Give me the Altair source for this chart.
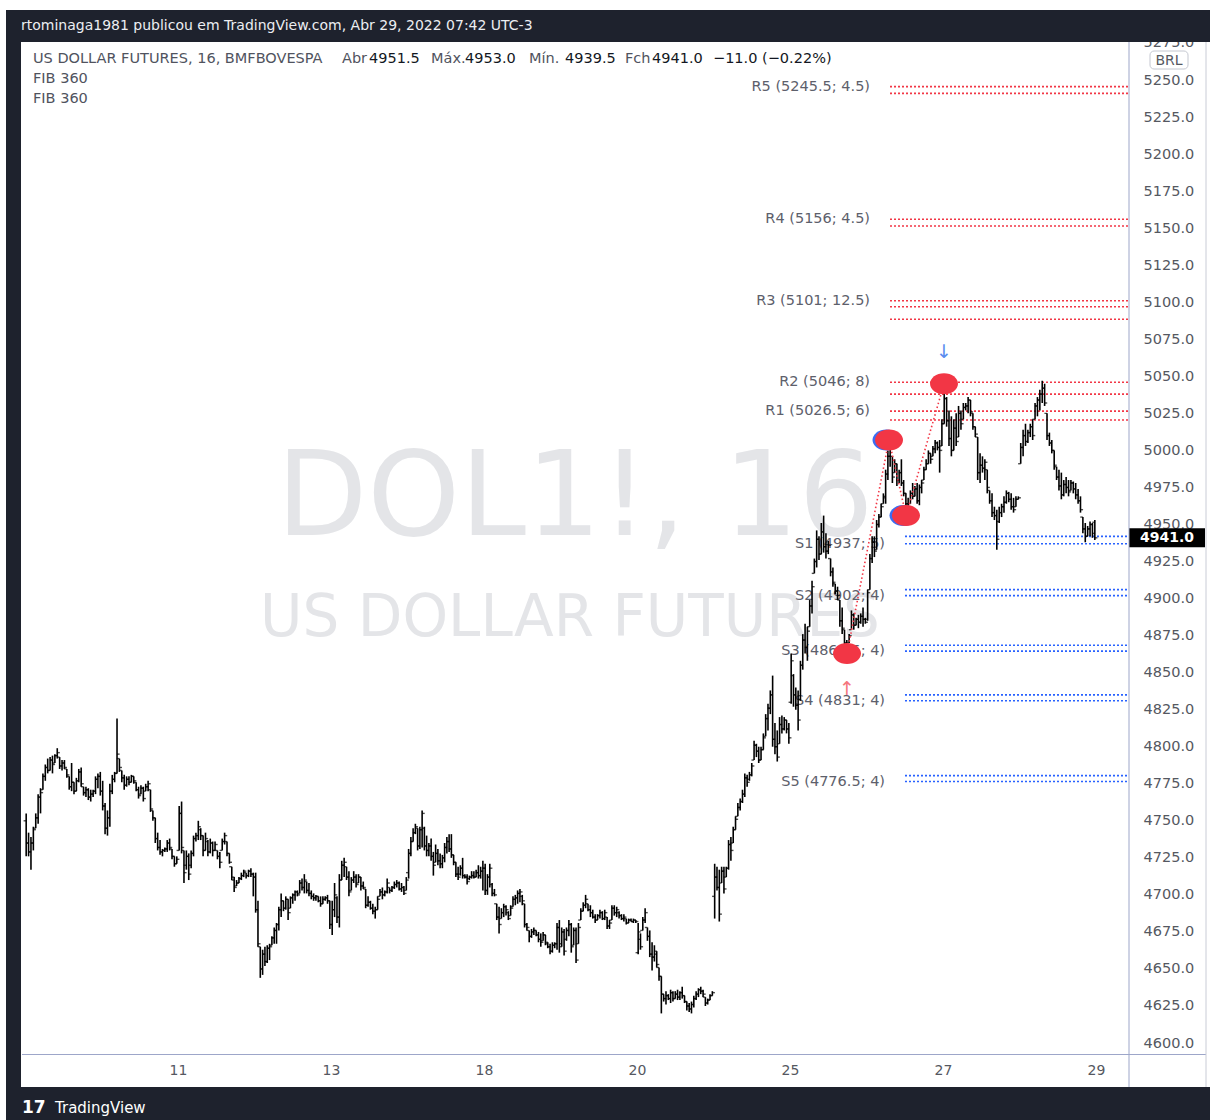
import altair as alt
import pandas as pd

FONT = "DejaVu Sans"
DARK = "#1e222d"
RED = "#f23645"
BLUE = "#2962ff"
GRAY = "#555861"

# ---------------- data ----------------
DAY_NAMES = ["7", "8", "11", "12", "13", "14", "18", "19", "20", "22", "25", "26", "27", "28"]
BARS_PER_DAY = [32, 32, 32, 33, 32, 34, 33, 32, 33, 33, 33, 34, 32, 32]

OPEN = [
    # 7
    4750,4735,4729,4735,4745,4752,4766,4771,4780,4786,4784,4791,4789,4794,4793,4787,4789,4785,4780,4773,4776,4770,4777,4783,4773,4769,4771,4766,4768,4770,4778,4780,
    # 8
    4770,4760,4745,4752,4770,4778,4782,4792,4784,4779,4774,4778,4776,4780,4776,4771,4768,4772,4770,4773,4771,4757,4752,4738,4732,4729,4730,4731,4735,4731,4726,4721,
    # 11
    4730,4755,4730,4720,4726,4720,4728,4738,4740,4744,4740,4730,4736,4729,4735,4730,4730,4726,4730,4736,4736,4728,4719,4710,4706,4708,4711,4713,4715,4713,4716,4714,
    # 12
    4712,4690,4665,4650,4660,4655,4664,4666,4671,4676,4680,4690,4696,4691,4697,4691,4698,4700,4702,4701,4708,4705,4709,4703,4701,4699,4698,4699,4696,4694,4697,4698,4696,
    # 13
    4680,4690,4698,4685,4710,4720,4719,4712,4703,4710,4712,4708,4712,4706,4704,4693,4695,4691,4689,4690,4699,4702,4700,4702,4705,4703,4705,4707,4708,4704,4705,4703,
    # 14
    4715,4728,4736,4742,4745,4733,4744,4745,4733,4730,4733,4726,4722,4728,4723,4721,4725,4732,4736,4731,4727,4722,4714,4714,4718,4713,4712,4711,4712,4713,4712,4715,4713,4716,
    # 18
    4718,4703,4712,4707,4701,4694,4685,4684,4688,4692,4688,4686,4692,4697,4698,4701,4699,4694,4680,4676,4672,4675,4676,4673,4670,4669,4673,4667,4665,4662,4666,4667,4678,
    # 19
    4667,4675,4670,4676,4680,4666,4676,4667,4683,4689,4693,4694,4690,4688,4685,4683,4686,4688,4684,4685,4679,4683,4691,4688,4688,4686,4684,4684,4681,4683,4682,4683,
    # 20
    4661,4670,4676,4683,4678,4672,4660,4658,4660,4651,4645,4633,4630,4632,4630,4634,4630,4633,4631,4634,4632,4628,4625,4623,4626,4630,4633,4636,4635,4631,4627,4629,4632,
    # 22
    4699,4712,4705,4708,4716,4712,4718,4734,4735,4744,4753,4759,4763,4768,4779,4778,4781,4791,4801,4797,4791,4798,4807,4819,4826,4835,4805,4800,4802,4815,4812,4818,4812,
    # 25
    4830,4848,4835,4828,4832,4855,4872,4867,4881,4895,4917,4925,4940,4930,4945,4935,4932,4927,4918,4910,4905,4899,4885,4879,4870,4870,4879,4889,4882,4886,4884,4888,4886,
    # 26
    4886,4906,4927,4938,4933,4950,4955,4964,4968,4984,4996,4996,4985,4991,4980,4985,4978,4971,4964,4964,4971,4969,4974,4966,4975,4980,4987,4991,4998,4996,5001,5005,5002,5003,
    # 27
    5018,5035,5020,5008,5000,5015,5009,5025,5021,5029,5030,5034,5025,5016,5009,4985,4990,4988,4987,4973,4966,4958,4956,4952,4958,4962,4965,4971,4967,4962,4962,4967,
    # 28
    4991,5002,5010,5006,5012,5016,5021,5030,5034,5038,5042,5025,5010,5005,5000,4989,4982,4976,4970,4977,4975,4973,4978,4974,4970,4966,4955,4947,4942,4947,4950,4951.5,
]
HIGH = [
    4755,4742,4739,4746,4755,4768,4772,4782,4788,4792,4793,4794,4795,4799,4793,4791,4791,4785,4780,4789,4776,4779,4785,4786,4773,4773,4772,4771,4771,4780,4782,4783,
    4777,4762,4757,4775,4781,4783,4819,4792,4784,4781,4780,4780,4781,4780,4776,4773,4774,4773,4775,4777,4771,4757,4752,4742,4737,4731,4732,4737,4738,4731,4726,4726,
    4760,4763,4730,4730,4728,4730,4740,4742,4750,4745,4740,4742,4737,4738,4736,4736,4730,4729,4738,4742,4736,4728,4719,4712,4710,4712,4715,4717,4715,4717,4718,4715,
    4715,4696,4665,4663,4665,4666,4667,4672,4678,4681,4692,4701,4696,4699,4697,4699,4701,4703,4703,4710,4711,4714,4709,4708,4703,4701,4700,4699,4699,4699,4699,4700,4696,
    4696,4708,4699,4714,4723,4725,4719,4716,4712,4716,4714,4714,4712,4709,4704,4699,4696,4694,4692,4699,4704,4705,4703,4711,4705,4706,4709,4710,4709,4708,4706,4712,
    4731,4739,4745,4748,4745,4746,4757,4746,4740,4735,4738,4729,4734,4731,4728,4727,4735,4739,4741,4741,4727,4722,4719,4720,4725,4714,4714,4713,4716,4716,4717,4720,4719,4723,
    4721,4714,4721,4708,4704,4694,4692,4691,4694,4693,4689,4693,4699,4700,4703,4704,4700,4694,4681,4676,4677,4678,4676,4675,4674,4675,4673,4668,4667,4668,4668,4681,4683,
    4678,4677,4678,4683,4681,4678,4678,4681,4691,4695,4700,4694,4693,4690,4687,4687,4690,4689,4690,4685,4683,4693,4693,4692,4689,4687,4687,4684,4684,4684,4684,4683,
    4681,4674,4685,4691,4678,4676,4668,4666,4662,4651,4645,4633,4635,4633,4636,4635,4635,4636,4635,4638,4632,4628,4627,4628,4632,4635,4637,4638,4636,4631,4630,4633,4635,
    4721,4719,4717,4719,4719,4719,4737,4739,4746,4753,4762,4765,4771,4782,4781,4783,4789,4804,4802,4800,4800,4809,4822,4829,4838,4848,4816,4811,4820,4821,4820,4818,4816,
    4863,4849,4840,4838,4858,4876,4883,4881,4899,4912,4927,4946,4942,4951,4956,4944,4939,4927,4921,4910,4908,4899,4894,4879,4872,4876,4892,4890,4887,4889,4890,4894,4887,
    4906,4930,4942,4942,4953,4957,4964,4971,4987,5000,5006,4996,4994,4991,4987,4994,4980,4971,4968,4973,4978,4976,4978,4977,4980,4989,4994,5000,4998,5003,5007,5006,5007,5021,
    5043,5036,5027,5023,5021,5025,5030,5027,5032,5032,5036,5034,5025,5016,5009,4998,4996,4994,4987,4973,4971,4962,4960,4962,4964,4969,4973,4972,4971,4968,4969,4969,
    5005,5014,5018,5014,5018,5021,5032,5036,5041,5047,5045,5025,5012,5007,5000,4989,4987,4985,4980,4982,4980,4980,4979,4978,4974,4969,4955,4951,4949,4952,4951,4953,
]
LOW = [
    4726,4726,4717,4730,4745,4748,4755,4771,4777,4782,4784,4782,4789,4792,4785,4784,4785,4779,4771,4770,4768,4770,4776,4773,4767,4766,4764,4763,4766,4768,4772,4767,
    4757,4741,4740,4746,4768,4776,4782,4783,4776,4771,4773,4774,4776,4775,4770,4765,4768,4763,4770,4770,4756,4750,4735,4730,4727,4726,4729,4729,4730,4724,4719,4721,
    4730,4728,4708,4717,4710,4718,4726,4736,4737,4737,4726,4730,4726,4728,4726,4730,4724,4718,4730,4734,4726,4721,4710,4702,4706,4708,4710,4712,4711,4712,4712,4699,
    4688,4665,4644,4646,4652,4654,4656,4666,4667,4667,4676,4685,4689,4690,4683,4691,4694,4696,4699,4701,4703,4701,4701,4699,4697,4696,4696,4695,4692,4694,4696,4694,4677,
    4673,4685,4681,4678,4710,4712,4710,4699,4703,4708,4705,4708,4703,4704,4691,4692,4690,4687,4684,4690,4699,4697,4699,4701,4701,4702,4704,4705,4703,4702,4700,4703,
    4711,4726,4736,4741,4730,4731,4732,4730,4726,4726,4723,4713,4722,4720,4718,4718,4722,4728,4729,4725,4720,4712,4710,4713,4711,4711,4707,4710,4711,4711,4712,4711,4711,4703,
    4700,4700,4705,4699,4699,4683,4674,4684,4685,4686,4683,4686,4692,4693,4694,4695,4693,4678,4676,4668,4671,4673,4672,4668,4665,4669,4666,4664,4660,4661,4664,4663,4661,
    4665,4659,4669,4672,4661,4666,4654,4667,4683,4689,4691,4689,4685,4684,4681,4683,4684,4683,4683,4677,4677,4683,4686,4685,4684,4683,4682,4680,4681,4682,4681,4681,
    4660,4663,4676,4681,4669,4658,4649,4655,4651,4642,4620,4628,4626,4629,4627,4628,4630,4629,4629,4630,4627,4622,4621,4620,4624,4629,4631,4633,4631,4625,4626,4629,4632,
    4684,4703,4682,4708,4701,4712,4717,4723,4735,4744,4753,4757,4762,4766,4773,4777,4780,4791,4793,4789,4791,4798,4807,4811,4822,4800,4795,4790,4802,4809,4811,4809,4802,
    4829,4827,4825,4811,4831,4852,4863,4858,4881,4890,4917,4921,4926,4930,4931,4927,4930,4915,4908,4903,4899,4881,4876,4867,4863,4870,4879,4879,4882,4880,4883,4881,4883,
    4885,4906,4924,4928,4933,4948,4955,4964,4964,4980,4989,4978,4985,4976,4978,4976,4969,4962,4958,4964,4967,4969,4964,4963,4971,4980,4987,4991,4991,4996,4998,5000,4985,5003,
    5018,5016,5003,4996,5000,5003,5009,5014,5021,5027,5025,5023,5014,5009,4980,4978,4985,4980,4971,4964,4955,4953,4933,4951,4955,4958,4964,4965,4960,4958,4962,4967,
    4991,4996,5003,5005,5009,5007,5021,5023,5027,5032,5030,5007,5003,4998,4987,4980,4973,4967,4969,4971,4969,4973,4971,4967,4964,4958,4944,4938,4942,4942,4941,4939.5,
]
CLOSE = [
    4735,4729,4735,4744,4752,4766,4769,4780,4786,4784,4791,4788,4794,4796,4787,4789,4786,4781,4773,4776,4770,4777,4783,4775,4769,4771,4766,4768,4770,4778,4780,4770,
    4760,4745,4752,4770,4778,4782,4795,4786,4779,4774,4778,4776,4780,4777,4771,4767,4772,4765,4773,4775,4758,4752,4738,4732,4729,4730,4731,4735,4732,4726,4721,4724,
    4755,4732,4715,4726,4714,4728,4738,4740,4746,4740,4730,4738,4729,4735,4730,4734,4726,4722,4736,4740,4728,4722,4712,4705,4708,4711,4713,4716,4713,4716,4714,4712,
    4690,4667,4650,4660,4655,4664,4665,4671,4676,4680,4690,4696,4691,4697,4688,4698,4700,4702,4700,4708,4705,4710,4703,4701,4699,4698,4699,4696,4694,4697,4698,4696,4680,
    4690,4700,4685,4710,4720,4722,4712,4702,4710,4712,4707,4712,4706,4705,4693,4695,4691,4689,4690,4697,4702,4700,4702,4708,4703,4705,4707,4708,4704,4705,4701,4710,
    4728,4736,4742,4746,4733,4744,4755,4733,4730,4733,4726,4720,4728,4723,4721,4725,4732,4736,4731,4727,4722,4714,4712,4718,4713,4712,4709,4712,4713,4712,4715,4713,4716,4718,
    4703,4712,4718,4701,4700,4685,4680,4688,4692,4690,4684,4691,4697,4698,4701,4702,4696,4680,4678,4672,4675,4676,4673,4670,4668,4673,4668,4665,4662,4666,4667,4678,4665,
    4675,4662,4676,4680,4665,4676,4656,4678,4689,4693,4697,4690,4688,4685,4683,4686,4688,4684,4688,4679,4681,4691,4688,4690,4686,4684,4685,4681,4683,4682,4683,4682,
    4675,4665,4683,4688,4672,4660,4658,4662,4653,4645,4633,4630,4632,4630,4634,4630,4633,4631,4634,4632,4628,4625,4623,4626,4630,4633,4636,4635,4633,4627,4629,4632,4634,
    4712,4705,4687,4716,4704,4718,4734,4730,4744,4751,4759,4763,4768,4779,4776,4781,4787,4801,4797,4791,4798,4806,4819,4826,4835,4805,4800,4793,4815,4812,4818,4812,4806,
    4858,4835,4828,4818,4855,4872,4867,4878,4895,4908,4925,4940,4930,4945,4935,4932,4936,4918,4911,4905,4902,4885,4880,4870,4867,4875,4889,4882,4886,4884,4888,4886,4884,
    4904,4927,4938,4932,4950,4955,4962,4969,4984,4996,5002,4982,4991,4980,4985,4978,4971,4964,4960,4971,4969,4974,4966,4975,4978,4987,4991,4998,4994,5001,5005,5002,5000,5018,
    5035,5020,5008,5000,5015,5006,5025,5018,5029,5030,5034,5026,5016,5011,4985,4990,4988,4992,4975,4966,4958,4956,4940,4958,4962,4965,4971,4967,4962,4960,4967,4968,
    5002,5010,5006,5012,5016,5010,5030,5034,5038,5042,5032,5010,5005,5000,4990,4982,4976,4970,4977,4975,4972,4978,4974,4970,4966,4960,4947,4942,4947,4950,4944,4941,
]

AXIS_DAY_POS = [2, 4, 6, 8, 10, 12, 14]
AXIS_DAY_LABELS = ["11", "13", "18", "20", "25", "27", "29"]
Y_TICKS = [4600, 4625, 4650, 4675, 4700, 4725, 4750, 4775, 4800, 4825, 4850, 4875, 4900, 4925,
           4950, 4975, 5000, 5025, 5050, 5075, 5100, 5125, 5150, 5175, 5200, 5225, 5250, 5275]

RES_NAMES = ["R5", "R4", "R3", "R2", "R1"]
RES_VALUES = [5245.5, 5156, 5101, 5046, 5026.5]
RES_WIDTHS = [4.5, 4.5, 12.5, 8, 6]
RES_EXTRA = [5097]
SUP_NAMES = ["S1", "S2", "S3", "S4", "S5"]
SUP_VALUES = [4937, 4902, 4864.5, 4831, 4776.5]
SUP_WIDTHS = [5, 4, 4, 4, 4]

# pivot markers (time in trading days from first visible session, price)
MARK_T = [10.745, 11.294, 11.516, 12.013]
MARK_V = [4863, 5007, 4956, 5045]
MARK_KIND = ["R", "R", "R", "B"]
SEG_KIND = ["R", "R", "B"]

LAST = {"o": "4951.5", "h": "4953.0", "l": "4939.5", "c": "4941.0", "chg": "\u221211.0 (\u22120.22%)"}
LAST_PRICE = 4941.0

# ---------------- scales / axes ----------------
X_MIN, X_MAX = -0.039, 14.418
Y_MIN, Y_MAX = 4592.6, 5275.65
R_LABEL_T, S_LABEL_T = 11.046, 11.242
R_LINE_T, S_LINE_T = 11.307, 11.503

XS = alt.Scale(domain=[X_MIN, X_MAX], nice=False, zero=False)
YS = alt.Scale(domain=[Y_MIN, Y_MAX], nice=False, zero=False)

label_expr = " : ".join(f"datum.value == {p} ? '{l}'" for p, l in zip(AXIS_DAY_POS, AXIS_DAY_LABELS)) + " : ''"
AX_X = alt.Axis(values=AXIS_DAY_POS, labelExpr=label_expr, title=None, domain=False, ticks=False, tickSize=0,
                grid=False, labelFlush=False, labelPadding=9, labelFontSize=14, labelColor=GRAY, labelFont=FONT)
AX_Y = alt.Axis(orient="right", values=Y_TICKS, format=".1f", title=None, domain=False, ticks=False, tickSize=0,
                grid=False, labelPadding=15, labelAlign="left", labelFontSize=14.5, labelColor=GRAY,
                labelFont=FONT, labelFlush=False)


def X(f):
    return alt.X(f, scale=XS, axis=AX_X, title=None)


def Y(f):
    return alt.Y(f, scale=YS, axis=AX_Y, title=None)


assert len(OPEN) == len(HIGH) == len(LOW) == len(CLOSE) == sum(BARS_PER_DAY)
rows = []
i = 0
for d, n in enumerate(BARS_PER_DAY):
    for k in range(n):
        rows.append({"t": d + (k + 0.5) / n, "o": OPEN[i], "h": HIGH[i], "l": LOW[i], "c": CLOSE[i]})
        i += 1
bars = pd.DataFrame(rows)

lines, labels = [], []
for nm, v, w in zip(RES_NAMES, RES_VALUES, RES_WIDTHS):
    lines += [{"v": v, "k": "R", "x0": R_LINE_T, "x1": X_MAX}, {"v": v - w, "k": "R", "x0": R_LINE_T, "x1": X_MAX}]
    labels.append({"txt": f"{nm} ({v:g}; {w:g})", "t": R_LABEL_T, "v": v})
for v in RES_EXTRA:
    lines.append({"v": v, "k": "R", "x0": R_LINE_T, "x1": X_MAX})
for nm, v, w in zip(SUP_NAMES, SUP_VALUES, SUP_WIDTHS):
    lines += [{"v": v, "k": "S", "x0": S_LINE_T, "x1": X_MAX}, {"v": v + w, "k": "S", "x0": S_LINE_T, "x1": X_MAX}]
    labels.append({"txt": f"{nm} ({v:g}; {w:g})", "t": S_LABEL_T, "v": v})
lines = pd.DataFrame(lines)
labels = pd.DataFrame(labels)

marks = pd.DataFrame({"t": MARK_T, "v": MARK_V, "k": MARK_KIND})
segs = pd.DataFrame({"t0": MARK_T[:-1], "t1": MARK_T[1:], "v0": MARK_V[:-1], "v1": MARK_V[1:], "k": SEG_KIND})

one = pd.DataFrame({"d": [0]})

ELLIPSE = "M-1,0C-1,-0.414,-0.552,-0.75,0,-0.75C0.552,-0.75,1,-0.414,1,0C1,0.414,0.552,0.75,0,0.75C-0.552,0.75,-1,0.414,-1,0Z"
BOX = "M-1,-0.25L1,-0.25L1,0.25L-1,0.25Z"


def txt(s, x, y, size=14, color=GRAY, align="left", weight="normal", baseline="middle", font=FONT):
    return alt.Chart(one).mark_text(text=s, fontSize=size, color=color, align=align, fontWeight=weight,
                                    baseline=baseline, font=font).encode(x=alt.value(x), y=alt.value(y))


def rect(x, x2, y, y2, color, **kw):
    return alt.Chart(one).mark_rect(color=color, **kw).encode(
        x=alt.value(x), x2=alt.value(x2), y=alt.value(y), y2=alt.value(y2))


# watermark
wm1 = txt("DOL1!, 16", 553, 493, size=118, color="#e4e5e8", align="center", baseline="alphabetic")
wm2 = txt("US DOLLAR FUTURES", 548, 594, size=58, color="#e4e5e8", align="center", baseline="alphabetic")

lvl = alt.Chart(lines).mark_rule(strokeDash=[2, 2], strokeWidth=1.6).encode(
    x=X("x0:Q"), x2="x1:Q", y=Y("v:Q"),
    color=alt.Color("k:N", scale=alt.Scale(domain=["R", "S"], range=[RED, BLUE]), legend=None))

lvl_txt = alt.Chart(labels).mark_text(align="right", baseline="middle", fontSize=14.5, color="#5d606b", font=FONT).encode(
    x=X("t:Q"), y=Y("v:Q"), text="txt:N")

hl = alt.Chart(bars).mark_rule(color="#000000", strokeWidth=1.6).encode(x=X("t:Q"), y=Y("l:Q"), y2="h:Q")
op = alt.Chart(bars).mark_tick(orient="horizontal", size=2.6, thickness=1.4, xOffset=-1.3, color="#000000").encode(
    x=X("t:Q"), y=Y("o:Q"))
cl = alt.Chart(bars).mark_tick(orient="horizontal", size=2.6, thickness=1.4, xOffset=1.3, color="#000000").encode(
    x=X("t:Q"), y=Y("c:Q"))

seg = alt.Chart(segs).mark_rule(strokeDash=[1.5, 2.5], strokeWidth=1.6).encode(
    x=X("t0:Q"), x2="t1:Q", y=Y("v0:Q"), y2="v1:Q",
    color=alt.Color("k:N", scale=alt.Scale(domain=["R", "B"], range=["#f77a82", "#4a7cf7"]), legend=None))

edge = alt.Chart(marks[marks.index.isin([1, 2])]).mark_point(shape=ELLIPSE, filled=True, size=784, opacity=1,
                                                            color="#3b6cf2", xOffset=-2.5).encode(
    x=X("t:Q"), y=Y("v:Q"))
ell = alt.Chart(marks).mark_point(shape=ELLIPSE, filled=True, size=784, opacity=1).encode(
    x=X("t:Q"), y=Y("v:Q"),
    color=alt.Color("k:N", scale=alt.Scale(domain=["R", "B"], range=["#f44b4b", "#2f66f0"]), legend=None))

arrow_dn = alt.Chart(marks.iloc[[3]]).mark_text(text="\u2193", fontSize=19, color="#5b8def", font=FONT, dy=-32).encode(
    x=X("t:Q"), y=Y("v:Q"))
arrow_up = alt.Chart(marks.iloc[[0]]).mark_text(text="\u2191", fontSize=19, color="#f5767e", font=FONT, dy=36).encode(
    x=X("t:Q"), y=Y("v:Q"))

last_df = pd.DataFrame({"v": [LAST_PRICE], "s": [LAST["c"]]})
last_box = alt.Chart(last_df).mark_point(shape=BOX, filled=True, size=5776, opacity=1, color="#000000").encode(
    x=alt.value(1145), y=Y("v:Q"))
last_txt = alt.Chart(last_df).mark_text(color="white", fontSize=14, fontWeight="bold", font=FONT).encode(
    x=alt.value(1145), y=Y("v:Q"), text="s:N")

brl_box = rect(1128, 1166, 9, 27, "white", stroke="#c4c7d0", strokeWidth=1, cornerRadius=4)
brl_txt = txt("BRL", 1147, 18.5, size=14, align="center")

# frame of the screenshot
band_top = rect(-16, 1188, -32, 0, DARK)
band_left = rect(-16, -1, -32, 1078, DARK)
band_bot = rect(-16, 1188, 1045, 1078, DARK)
sep_v = alt.Chart(one).mark_rule(color="#9da6c9", strokeWidth=1).encode(
    x=alt.value(1107), y=alt.value(0), y2=alt.value(1045))
sep_h = alt.Chart(one).mark_rule(color="#9da6c9", strokeWidth=1).encode(
    x=alt.value(0), x2=alt.value(1184), y=alt.value(1012.5))
sep_r = alt.Chart(one).mark_rule(color="#c9ccd6", strokeWidth=1).encode(
    x=alt.value(1184), y=alt.value(0), y2=alt.value(1045))

header = txt("rtominaga1981 publicou em TradingView.com, Abr 29, 2022 07:42 UTC-3", -1, -16, size=14, color="#eceef2")
LEG_C = "#50535e"
VAL_C = "#131722"
leg = [
    txt("US DOLLAR FUTURES, 16, BMFBOVESPA", 11, 17, size=14.5, color=LEG_C),
    txt("Abr", 320, 17, size=14.5, color=LEG_C),
    txt(LAST["o"], 347, 17, size=14.5, color=VAL_C),
    txt("M\u00e1x.", 409, 17, size=14.5, color=LEG_C),
    txt(LAST["h"], 443, 17, size=14.5, color=VAL_C),
    txt("M\u00edn.", 507, 17, size=14.5, color=LEG_C),
    txt(LAST["l"], 543, 17, size=14.5, color=VAL_C),
    txt("Fch", 603, 17, size=14.5, color=LEG_C),
    txt(LAST["c"], 630, 17, size=14.5, color=VAL_C),
    txt(LAST["chg"], 691, 17, size=14.5, color=VAL_C),
    txt("FIB 360", 11, 37, size=14.5, color=LEG_C),
    txt("FIB 360", 11, 57, size=14.5, color=LEG_C),
]
logo = txt("17", 0, 1066, size=17, color="white", weight="bold")
logo2 = txt("TradingView", 33, 1066, size=15, color="white")

chart = alt.layer(
    wm1, wm2, lvl, lvl_txt, hl, op, cl, seg, edge, ell, arrow_dn, arrow_up,
    last_box, last_txt, band_top, band_left, band_bot, sep_v, sep_h, sep_r,
    brl_box, brl_txt, header, *leg, logo, logo2,
).properties(
    width=1106, height=1012,
    padding={"left": 22, "top": 42, "right": 82, "bottom": 66},
    autosize=alt.AutoSizeParams(type="none"),
    background="white",
).configure(font=FONT).configure_view(strokeWidth=0)

chart.save("out.html", embed_options={"renderer": "svg", "actions": False})
